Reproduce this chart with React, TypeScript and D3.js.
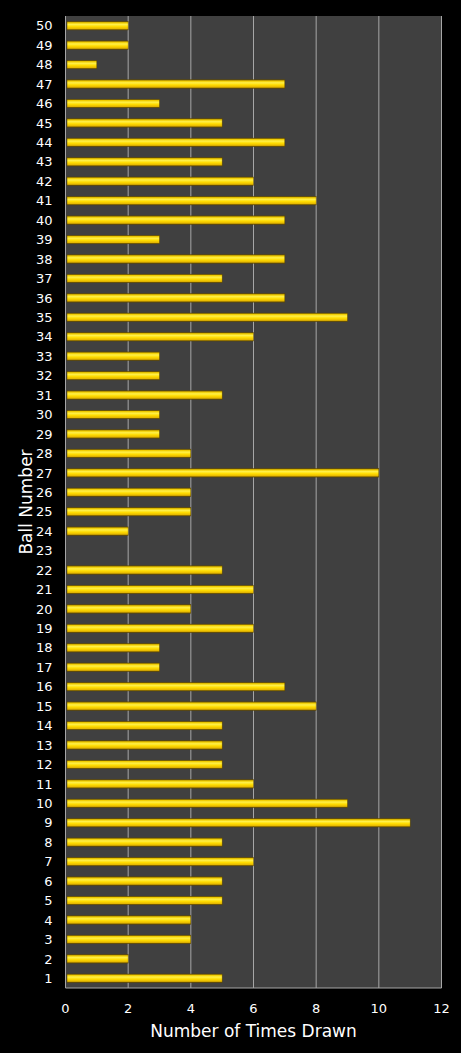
import React from 'react';
import * as d3 from 'd3';

// ball numbers 1..50 and how often each was drawn
const balls: string[] = [
  '1', '2', '3', '4', '5', '6', '7', '8', '9', '10',
  '11', '12', '13', '14', '15', '16', '17', '18', '19', '20',
  '21', '22', '23', '24', '25', '26', '27', '28', '29', '30',
  '31', '32', '33', '34', '35', '36', '37', '38', '39', '40',
  '41', '42', '43', '44', '45', '46', '47', '48', '49', '50',
];
const timesDrawn: number[] = [
  5, 2, 4, 4, 5, 5, 6, 5, 11, 9,
  6, 5, 5, 5, 8, 7, 3, 3, 6, 4,
  6, 5, 0, 2, 4, 4, 10, 4, 3, 3,
  5, 3, 3, 6, 9, 7, 5, 7, 3, 7,
  8, 6, 5, 7, 5, 3, 7, 1, 2, 2,
];
const xTicks: number[] = [0, 2, 4, 6, 8, 10, 12];

const W = 461;
const H = 1053;
const margin = { top: 16, right: 19.5, bottom: 65, left: 65.5 };
const font = '"DejaVu Sans", Verdana, sans-serif';

export default function App() {
  const plotW = W - margin.left - margin.right;
  const plotH = H - margin.top - margin.bottom;

  const x = d3.scaleLinear().domain([0, 12]).range([0, plotW]);
  // ball 50 at top
  const y = d3.scaleBand<string>().domain([...balls].reverse()).range([0, plotH]).paddingInner(0.56).paddingOuter(0.28);
  const barH = 8.5;

  return (
    <svg
      width={W}
      height={H}
      style={{ position: 'absolute', left: 0, top: 0, background: '#000' }}
    >
      <defs>
        <linearGradient id="bar-grad" x1="0" y1="0" x2="0" y2="1">
          <stop offset="0%" stopColor="#8a6e00" />
          <stop offset="15%" stopColor="#f0cc00" />
          <stop offset="35%" stopColor="#fff04a" />
          <stop offset="60%" stopColor="#ffdc00" />
          <stop offset="85%" stopColor="#e6b800" />
          <stop offset="100%" stopColor="#7a5e00" />
        </linearGradient>
      </defs>
      <g transform={`translate(${margin.left},${margin.top})`}>
        <rect x={0} y={0} width={plotW} height={plotH} fill="#404040" />
        {xTicks.slice(1).map((t) => (
          <line key={t} x1={x(t)} x2={x(t)} y1={0} y2={plotH} stroke="#a6a6a6" strokeWidth={1} />
        ))}
        {/* axes */}
        <line x1={0} x2={0} y1={0} y2={plotH} stroke="#a6a6a6" strokeWidth={1} />
        <line x1={0} x2={plotW} y1={plotH} y2={plotH} stroke="#a6a6a6" strokeWidth={1} />

        {balls.map((b, i) => {
          const v = timesDrawn[i];
          if (!v) return null;
          const cy = (y(b) ?? 0) + y.bandwidth() / 2;
          return (
            <rect
              key={b}
              x={1.5}
              y={cy - barH / 2}
              width={x(v) - 1.5}
              height={barH}
              fill="url(#bar-grad)"
              stroke="#5a4500"
              strokeWidth={0.5}
            />
          );
        })}

        {balls.map((b) => (
          <text
            key={b}
            x={-13}
            y={(y(b) ?? 0) + y.bandwidth() / 2}
            dy="0.36em"
            textAnchor="end"
            fill="#fff"
            fontSize={13}
            fontFamily={font}
          >
            {b}
          </text>
        ))}

        {xTicks.map((t) => (
          <text
            key={t}
            x={x(t)}
            y={plotH + 20}
            dy="0.36em"
            textAnchor="middle"
            fill="#fff"
            fontSize={13}
            fontFamily={font}
          >
            {t}
          </text>
        ))}

        <text
          x={plotW / 2}
          y={plotH + 43}
          dy="0.36em"
          textAnchor="middle"
          fill="#fff"
          fontSize={17}
          fontFamily={font}
        >
          Number of Times Drawn
        </text>
        <text
          transform={`translate(${26 - margin.left},${plotH / 2}) rotate(-90)`}
          dy="0.36em"
          textAnchor="middle"
          fill="#fff"
          fontSize={17}
          fontFamily={font}
        >
          Ball Number
        </text>
      </g>
    </svg>
  );
}
